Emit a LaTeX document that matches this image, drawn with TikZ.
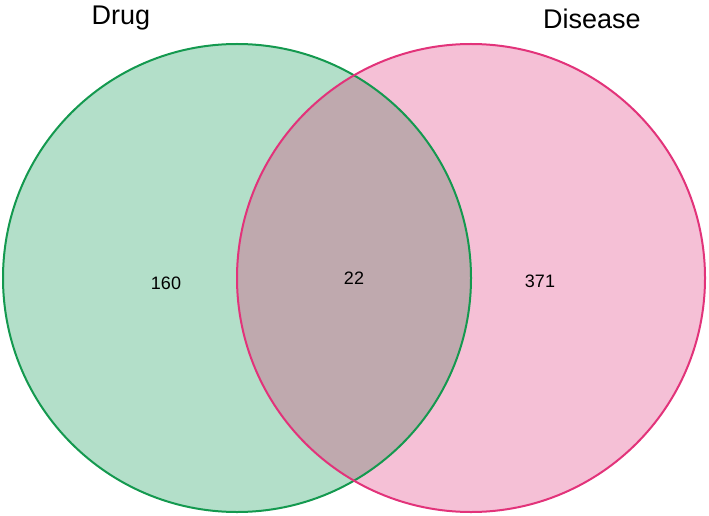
\documentclass[tikz,border=0pt]{standalone}
\usepackage{fontspec}
\setmainfont{Liberation Sans}
\definecolor{gfill}{HTML}{B3DFC9}
\definecolor{gline}{HTML}{14994F}
\definecolor{pfill}{HTML}{F5C0D6}
\definecolor{pline}{HTML}{E2337A}
\definecolor{ofill}{HTML}{BFA9AE}
\begin{document}
\begin{tikzpicture}[x=1pt,y=1pt,
  setlabel/.style={font=\fontsize{27}{30}\selectfont, inner sep=0pt},
  countlabel/.style={font=\fontsize{18}{20}\selectfont, inner sep=0pt}]
\useasboundingbox (0,0) rectangle (709,515);
\coordinate (cl) at (237,237);
\coordinate (cr) at (471,237);
\fill[gfill] (cl) circle (234);
\fill[pfill] (cr) circle (234);
\begin{scope}
  \clip (cl) circle (234);
  \fill[ofill] (cr) circle (234);
\end{scope}
\draw[gline, line width=2pt] (cl) circle (234);
\draw[pline, line width=2pt] (cr) circle (234);
\node[setlabel] (drug) at (121,497) {Drug};
\node[setlabel] (disease) at (592,496) {Disease};
\node[countlabel] (a) at (166,232) {160};
\node[countlabel] (b) at (354,237) {22};
\node[countlabel] (c) at (540,234) {371};
\end{tikzpicture}
\end{document}
